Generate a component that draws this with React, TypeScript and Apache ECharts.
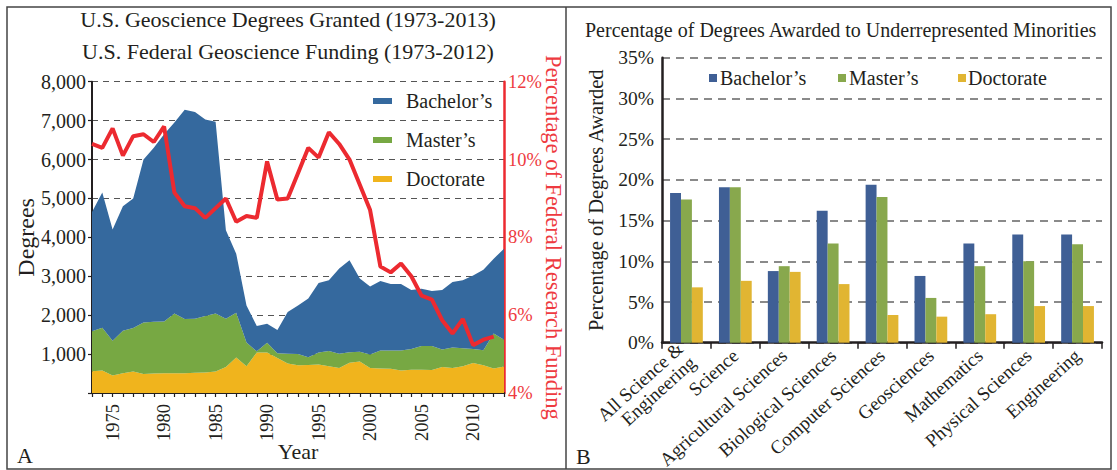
import React, { useEffect, useRef } from 'react';
import * as echarts from 'echarts';

// ---------- Panel A data ----------
const years = [
  '1973','1974','1975','1976','1977','1978','1979','1980','1981','1982',
  '1983','1984','1985','1986','1987','1988','1989','1990','1991','1992',
  '1993','1994','1995','1996','1997','1998','1999','2000','2001','2002',
  '2003','2004','2005','2006','2007','2008','2009','2010','2011','2012','2013',
];
const doctorate = [
  560, 580, 450, 510, 550, 490, 500, 510, 510, 510,
  520, 530, 550, 670, 910, 690, 1040, 1040, 900, 760,
  710, 720, 730, 690, 640, 780, 810, 640, 630, 620,
  580, 600, 600, 590, 670, 640, 690, 770, 710, 630, 680,
];
const masters = [
  1030, 1100, 890, 1090, 1120, 1320, 1330, 1330, 1530, 1390,
  1390, 1450, 1490, 1240, 1150, 610, 30, 250, 120, 250,
  290, 200, 310, 390, 370, 270, 250, 350, 460, 470,
  510, 530, 610, 620, 450, 530, 460, 360, 390, 900, 690,
];
const bachelors = [
  3060, 3470, 2860, 3200, 3330, 4190, 4470, 4810, 4910, 5380,
  5310, 5050, 4930, 2270, 1520, 950, 650, 490, 600, 1070,
  1250, 1510, 1790, 1820, 2190, 2360, 1880, 1750, 1790, 1710,
  1710, 1520, 1470, 1410, 1530, 1680, 1750, 1890, 2070, 1920, 2340,
];
const fundingPct = [
  10.4, 10.3, 10.8, 10.1, 10.6, 10.65, 10.45, 10.85, 9.15, 8.8,
  8.75, 8.5, 8.75, 9.0, 8.4, 8.55, 8.5, 9.95, 8.97, 9.0,
  9.65, 10.3, 10.05, 10.7, 10.4, 10.0, 9.35, 8.7, 7.25, 7.1,
  7.33, 7.0, 6.5, 6.4, 5.87, 5.53, 5.9, 5.23, 5.37, 5.45, null,
];

// ---------- Panel B data ----------
const fields = [
  'All Science & Engineering', 'Science', 'Agricultural Sciences', 'Biological Sciences',
  'Computer Sciences', 'Geosciences', 'Mathematics', 'Physical Sciences', 'Engineering',
];
const urmBachelors = [18.4, 19.1, 8.8, 16.2, 19.4, 8.2, 12.2, 13.3, 13.3];
const urmMasters = [17.6, 19.1, 9.4, 12.2, 17.9, 5.5, 9.4, 10.0, 12.1];
const urmDoctorate = [6.8, 7.6, 8.7, 7.2, 3.4, 3.2, 3.5, 4.5, 4.5];

const FONT = "'Liberation Serif', 'Times New Roman', serif";
const TXT = '#231f20';
const RED = '#ec2a30';
const RED_TXT = '#ee3a40';
const A_BLUE = '#35699e';
const A_GREEN = '#77a843';
const A_YEL = '#f0b41d';
const B_BLUE = '#3f5f95';
const B_GREEN = '#88a84d';
const B_YEL = '#e1b532';

const BACH = 'Bachelor\u2019s';
const MAST = 'Master\u2019s';
const DOCT = 'Doctorate';

export default function App() {
  const ref = useRef<HTMLDivElement>(null);
  useEffect(() => {
    document.body.style.margin = '0';
    const chart = echarts.init(ref.current!, null, { renderer: 'svg' });
    const ts = (size: number, extra: any = {}) => ({ fontFamily: FONT, fontSize: size, color: TXT, fontWeight: 'normal', ...extra });
    const option: any = {
      animation: false,
      textStyle: { fontFamily: FONT, color: TXT },
      title: [
        {
          text: 'U.S. Geoscience Degrees Granted (1973-2013)\nU.S. Federal Geoscience Funding (1973-2012)',
          left: 288, top: 3, textAlign: 'center', padding: 0,
          textStyle: ts(22, { lineHeight: 32 }),
        },
        {
          text: 'Percentage of Degrees Awarded to Underrepresented Minorities',
          left: 585, top: 20, padding: 0, textStyle: ts(20),
        },
        { text: 'A', left: 17, top: 444, padding: 0, textStyle: ts(22) },
        { text: 'B', left: 576, top: 445, padding: 0, textStyle: ts(22) },
      ],
      legend: [
        {
          orient: 'vertical', left: 373, top: 91, padding: 0,
          itemWidth: 19, itemHeight: 6, itemGap: 19, icon: 'rect', selectedMode: false,
          textStyle: ts(20, { lineHeight: 20, padding: [0, 0, 0, 9] }),
          data: [
            { name: BACH, itemStyle: { color: A_BLUE, borderWidth: 0 } },
            { name: MAST, itemStyle: { color: A_GREEN, borderWidth: 0 } },
            { name: DOCT, itemStyle: { color: A_YEL, borderWidth: 0 } },
          ],
        },
        {
          left: 709, top: 68, padding: 0, itemWidth: 8, itemHeight: 8, icon: 'rect', selectedMode: false,
          textStyle: ts(20, { lineHeight: 20, padding: [0, 0, 0, -2] }),
          data: [{ name: BACH, itemStyle: { color: B_BLUE, borderWidth: 0 } }],
        },
        {
          left: 838, top: 68, padding: 0, itemWidth: 8, itemHeight: 8, icon: 'rect', selectedMode: false,
          textStyle: ts(20, { lineHeight: 20, padding: [0, 0, 0, -2] }),
          data: [{ name: MAST, itemStyle: { color: B_GREEN, borderWidth: 0 } }],
        },
        {
          left: 958, top: 68, padding: 0, itemWidth: 8, itemHeight: 8, icon: 'rect', selectedMode: false,
          textStyle: ts(20, { lineHeight: 20, padding: [0, 0, 0, -3] }),
          data: [{ name: DOCT, itemStyle: { color: B_YEL, borderWidth: 0 } }],
        },
      ],
      grid: [
        { left: 92, top: 81.7, width: 412, height: 311.3, outerBoundsMode: 'none', containLabel: false },
        { left: 662, top: 57.8, width: 440, height: 284.9, outerBoundsMode: 'none', containLabel: false },
      ],
      xAxis: [
        {
          type: 'category', gridIndex: 0, data: years, boundaryGap: false,
          axisLine: { lineStyle: { color: TXT, width: 2 } },
          axisTick: { show: true, interval: 0, length: 4, lineStyle: { color: TXT, width: 1.2 } },
          axisLabel: {
            interval: (_i: number, v: string) => Number(v) % 5 === 0,
            rotate: 90, margin: 11, ...ts(18.5),
          },
          splitLine: { show: false },
          name: 'Year', nameLocation: 'middle', nameGap: 47, nameMoveOverlap: false, nameTextStyle: ts(22),
        },
        {
          type: 'category', gridIndex: 1, data: fields,
          axisLine: { lineStyle: { color: TXT, width: 2.5 } },
          axisTick: { show: true, length: 6, lineStyle: { color: TXT, width: 1.5 } },
          axisLabel: {
            interval: 0, rotate: 42, margin: 10, ...ts(19),
            formatter: (v: string) => (v === 'All Science & Engineering' ? 'All Science &\nEngineering' : v),
          },
        },
      ],
      yAxis: [
        {
          type: 'value', gridIndex: 0, min: 0, max: 8000, interval: 1000,
          axisLine: { show: true, lineStyle: { color: TXT, width: 2 } },
          axisTick: { show: true, length: 4, lineStyle: { color: TXT, width: 1.2 } },
          splitLine: { show: true, lineStyle: { type: [6, 5], color: '#555', width: 1.2 } },
          axisLabel: {
            margin: 6, ...ts(20),
            formatter: (v: number) => (v === 0 ? '' : v.toLocaleString('en-US')),
          },
          name: 'Degrees', nameLocation: 'middle', nameGap: 54, nameMoveOverlap: false, nameTextStyle: ts(24),
        },
        {
          type: 'value', gridIndex: 0, position: 'right', min: 4, max: 12, interval: 2,
          axisLine: { show: true, lineStyle: { color: RED, width: 2.5 } },
          axisTick: { show: false },
          splitLine: { show: false },
          axisLabel: { margin: 4, formatter: '{value}%', ...ts(18.5, { color: RED_TXT }) },
          name: 'Percentage of Federal Research Funding', nameLocation: 'middle', nameGap: 38,
          nameMoveOverlap: false, nameRotate: -90, nameTextStyle: ts(22.5, { color: RED_TXT }),
        },
        {
          type: 'value', gridIndex: 1, min: 0, max: 35, interval: 5,
          axisLine: { show: true, lineStyle: { color: TXT, width: 2.5 } },
          axisTick: { show: false },
          splitLine: { show: true, lineStyle: { type: [8, 6], color: '#8a8a8a', width: 2 } },
          axisLabel: { margin: 8, formatter: '{value}%', ...ts(19.5) },
          name: 'Percentage of Degrees Awarded', nameLocation: 'middle', nameGap: 56,
          nameMoveOverlap: false, nameTextStyle: ts(20.5),
        },
      ],
      series: [
        { type: 'bar', name: BACH, xAxisIndex: 1, yAxisIndex: 2, data: urmBachelors, barGap: '0%', barCategoryGap: '33%', itemStyle: { color: B_BLUE } },
        { type: 'bar', name: MAST, xAxisIndex: 1, yAxisIndex: 2, data: urmMasters, barGap: '0%', barCategoryGap: '33%', itemStyle: { color: B_GREEN } },
        { type: 'bar', name: DOCT, xAxisIndex: 1, yAxisIndex: 2, data: urmDoctorate, barGap: '0%', barCategoryGap: '33%', itemStyle: { color: B_YEL } },
        {
          type: 'line', name: DOCT, xAxisIndex: 0, yAxisIndex: 0, stack: 'deg', data: doctorate,
          symbol: 'none', lineStyle: { width: 0 }, itemStyle: { color: A_YEL }, areaStyle: { color: A_YEL, opacity: 1 }, z: 2,
        },
        {
          type: 'line', name: MAST, xAxisIndex: 0, yAxisIndex: 0, stack: 'deg', data: masters,
          symbol: 'none', lineStyle: { width: 0 }, itemStyle: { color: A_GREEN }, areaStyle: { color: A_GREEN, opacity: 1 }, z: 2,
        },
        {
          type: 'line', name: BACH, xAxisIndex: 0, yAxisIndex: 0, stack: 'deg', data: bachelors,
          symbol: 'none', lineStyle: { width: 0 }, itemStyle: { color: A_BLUE }, areaStyle: { color: A_BLUE, opacity: 1 }, z: 2,
        },
        {
          type: 'line', name: 'Federal funding', xAxisIndex: 0, yAxisIndex: 1, data: fundingPct,
          symbol: 'none', lineStyle: { width: 4, color: RED }, itemStyle: { color: RED }, z: 5,
        },
      ],
      graphic: [
        { type: 'rect', shape: { x: 7, y: 7, width: 1104, height: 462 }, style: { fill: 'none', stroke: '#444', lineWidth: 1.5 }, silent: true },
        { type: 'line', shape: { x1: 566, y1: 7, x2: 566, y2: 469 }, style: { stroke: '#444', lineWidth: 1.5 }, silent: true },
      ],
    };
    chart.setOption(option);
    return () => chart.dispose();
  }, []);
  return <div ref={ref} style={{ width: 1117, height: 470 }} />;
}
